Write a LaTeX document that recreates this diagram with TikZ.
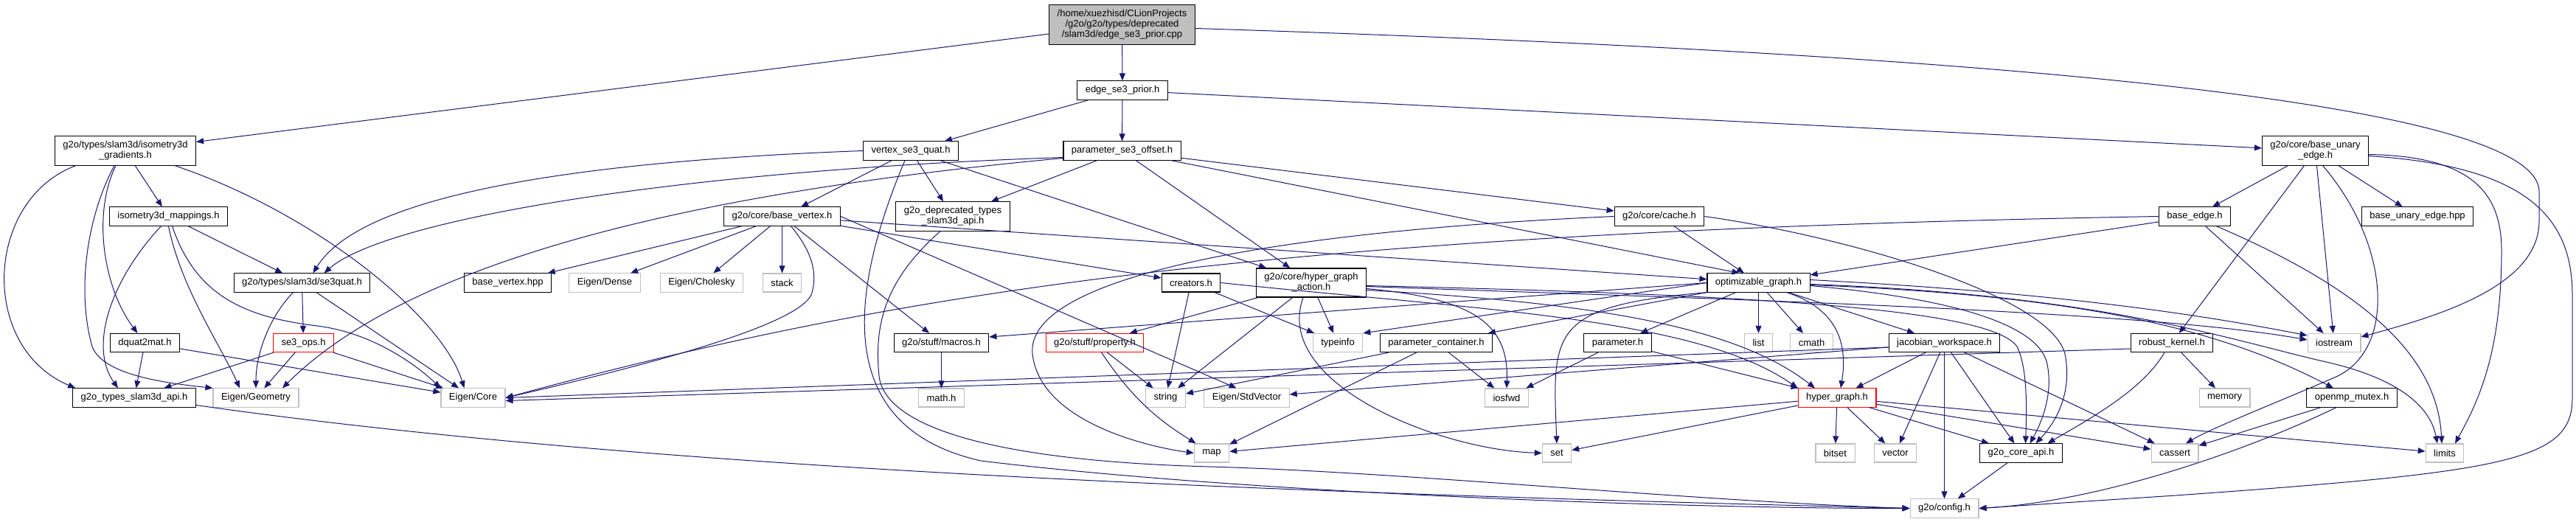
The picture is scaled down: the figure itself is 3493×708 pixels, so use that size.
\documentclass[tikz,border=0pt]{standalone}
\usepackage{fontspec}
\setmainfont{Liberation Sans}
\usepackage{xcolor}
\usetikzlibrary{arrows.meta}

\definecolor{edgeblue}{RGB}{25,25,112}
\definecolor{sysgray}{RGB}{191,191,191}

\begin{document}
\begin{tikzpicture}[
    x=1pt, y=-1pt,
    hdr/.style={
        draw=black,
        fill=white,
        line width=1.1pt,
        inner xsep=11pt,
        inner ysep=6.5pt,
        minimum height=25pt,
        align=center,
        font=\fontsize{13}{14}\selectfont
    },
    sys/.style={hdr, draw=sysgray},
    trunc/.style={hdr, draw=red},
    inc/.style={
        -{Triangle[length=10pt,width=8pt]},
        draw=edgeblue,
        line width=1pt
    }
]

\path[use as bounding box, fill=white] (0,0) rectangle (3493,708);

\node[hdr, fill=sysgray] (root) at (1521.5,33.5)
{/home/xuezhisd/CLionProjects\\/g2o/g2o/types/deprecated\\/slam3d/edge\_se3\_prior.cpp};

\node[hdr] (prior) at (1522,122.5) {edge\_se3\_prior.h};

\node[hdr] (isograd) at (170,204.5) {g2o/types/slam3d/isometry3d\\\_gradients.h};
\node[hdr] (vertex) at (1235,204.5) {vertex\_se3\_quat.h};
\node[hdr] (offset) at (1521.5,204.5) {parameter\_se3\_offset.h};
\node[hdr] (unary) at (3139.5,204.5) {g2o/core/base\_unary\\\_edge.h};

\node[hdr] (isomap) at (228.5,293.5) {isometry3d\_mappings.h};
\node[hdr] (basevertex) at (1060.5,293.5) {g2o/core/base\_vertex.h};
\node[hdr] (depapi) at (1292,293.5) {g2o\_deprecated\_types\\\_slam3d\_api.h};
\node[hdr] (cache) at (2250,293.5) {g2o/core/cache.h};
\node[hdr] (baseedge) at (2976,293.5) {base\_edge.h};
\node[hdr] (unaryhpp) at (3278,293.5) {base\_unary\_edge.hpp};

\node[hdr] (se3quat) at (409.5,383.5) {g2o/types/slam3d/se3quat.h};
\node[hdr] (vertexhpp) at (688.5,383.5) {base\_vertex.hpp};
\node[sys] (dense) at (820,383.5) {Eigen/Dense};
\node[sys] (cholesky) at (951.5,383.5) {Eigen/Cholesky};
\node[sys] (stack) at (1060.5,383.5) {stack};
\node[hdr] (creators) at (1615,383.5) {creators.h};
\node[hdr] (action) at (1778,383.5) {g2o/core/hyper\_graph\\\_action.h};
\node[hdr] (optgraph) at (2384.5,383.5) {optimizable\_graph.h};

\node[hdr] (dquat) at (196.5,465) {dquat2mat.h};
\node[trunc] (se3ops) at (411.5,465) {se3\_ops.h};
\node[hdr] (macros) at (1276.5,465) {g2o/stuff/macros.h};
\node[trunc] (property) at (1484.5,465) {g2o/stuff/property.h};
\node[sys] (typeinfo) at (1814,465) {typeinfo};
\node[hdr] (paramcont) at (1947.5,465) {parameter\_container.h};
\node[hdr] (param) at (2193.5,465) {parameter.h};
\node[sys] (list) at (2384.5,465) {list};
\node[sys] (cmath) at (2456.5,465) {cmath};
\node[hdr] (jacobian) at (2636.5,465) {jacobian\_workspace.h};
\node[hdr] (robust) at (2945,465) {robust\_kernel.h};
\node[sys] (iostream) at (3165,465) {iostream};

\node[hdr] (api3d) at (182,539.5) {g2o\_types\_slam3d\_api.h};
\node[sys] (geometry) at (347,539.5) {Eigen/Geometry};
\node[sys] (core) at (641.5,539.5) {Eigen/Core};
\node[sys] (math) at (1276.5,539.5) {math.h};
\node[sys] (string) at (1580.5,539.5) {string};
\node[sys] (stdvector) at (1690.5,539.5) {Eigen/StdVector};
\node[sys] (iosfwd) at (2043,539.5) {iosfwd};
\node[trunc] (hypergraph) at (2491,539.5) {hyper\_graph.h};
\node[sys] (memory) at (3016.5,539.5) {memory};
\node[hdr] (mutex) at (3189,539.5) {openmp\_mutex.h};

\node[sys] (map) at (1643,614.5) {map};
\node[sys] (set) at (2111,614.5) {set};
\node[sys] (bitset) at (2488.5,614.5) {bitset};
\node[sys] (vector) at (2570,614.5) {vector};
\node[hdr] (coreapi) at (2740.5,614.5) {g2o\_core\_api.h};
\node[sys] (cassert) at (2949,614.5) {cassert};
\node[sys] (limits) at (3315,614.5) {limits};

\node[sys] (config) at (2636.5,689.5) {g2o/config.h};

\draw[inc] (root) -- (prior);
\draw[inc] (root) -- (isograd);
\draw[inc] ([yshift=-5]root.east) .. controls (2600,70) and (3443,130) .. (3443,260)
    -- (3443,300) .. controls (3443,390) and (3300,430) .. ([yshift=8]iostream.east);

\draw[inc] (prior) -- (vertex);
\draw[inc] (prior) -- (offset);
\draw[inc] (prior) -- (unary);

\draw[inc] (isograd) -- (isomap);
\draw[inc] ([xshift=-13]isograd.south) .. controls (125,290) and (140,390) .. ([xshift=-10]dquat.north);
\draw[inc] ([xshift=-15]isograd.south) .. controls (115,300) and (105,400) .. (125,470)
    .. controls (140,510) and (230,520) .. (geometry.north west);
\draw[inc] ([xshift=-67]isograd.south) .. controls (-20,270) and (-30,470) .. ([xshift=4]api3d.north west);
\draw[inc] ([xshift=67]isograd.south) .. controls (430,290) and (600,430) .. ([xshift=-12]core.north);

\draw[inc] (isomap) -- (se3quat);
\draw[inc] ([xshift=-10]isomap.south) .. controls (150,380) and (120,470) .. ([xshift=-22]api3d.north);
\draw[inc] (isomap.south) .. controls (245,390) and (300,470) .. ([xshift=-22]geometry.north);
\draw[inc] ([xshift=5]isomap.south) .. controls (265,400) and (330,430) .. (430,442)
    .. controls (510,452) and (570,500) .. (core.north west);

\draw[inc] (dquat) -- (api3d);
\draw[inc] (dquat) -- (core);

\draw[inc] ([xshift=-12]se3quat.south) .. controls (365,430) and (347,480) .. (geometry.north);
\draw[inc] (se3quat) -- (se3ops);
\draw[inc] (se3quat) -- (core);

\draw[inc] (se3ops) -- (api3d);
\draw[inc] (se3ops) -- (geometry);
\draw[inc] (se3ops) -- (core);

\draw[inc] ([yshift=-10]api3d.east) .. controls (900,640) and (1800,670) .. (config.west);

\draw[inc] (vertex.west) .. controls (700,222) and (480,280) .. ([xshift=15]se3quat.north);
\draw[inc] (vertex) -- (basevertex);
\draw[inc] (vertex) -- (depapi);
\draw[inc] (vertex) -- (action);
\draw[inc] ([xshift=-8]vertex.south) .. controls (1150,400) and (1130,580) .. (1330,625)
    .. controls (1700,670) and (2300,690) .. (config.west);

\draw[inc] ([yshift=-9]offset.west) .. controls (900,232) and (520,300) .. ([xshift=30]se3quat.north);
\draw[inc] ([yshift=-10]offset.west) .. controls (950,260) and (560,350) .. ([xshift=36]geometry.north);
\draw[inc] (offset) -- (depapi);
\draw[inc] (offset) -- (action);
\draw[inc] (offset) -- ([xshift=-26]optgraph.north);
\draw[inc] (offset) -- (cache);

\draw[inc] ([xshift=-17]depapi.south) .. controls (1200,380) and (1185,440) .. (1192,510)
    .. controls (1200,580) and (1350,625) .. (1640,633)
    .. controls (1900,640) and (2300,680) .. (config.west);

\draw[inc] (basevertex) -- (vertexhpp);
\draw[inc] (basevertex) -- (dense);
\draw[inc] (basevertex) -- (cholesky);
\draw[inc] (basevertex) -- (stack);
\draw[inc] ([xshift=12]basevertex.south) .. controls (1100,340) and (1110,370) .. (1100,400)
    .. controls (1080,440) and (900,490) .. (core.east);
\draw[inc] (basevertex) -- (macros);
\draw[inc] (basevertex) -- (creators);
\draw[inc] (basevertex.east) -- ([xshift=-14]stdvector.north);
\draw[inc] (basevertex) -- (optgraph);

\draw[inc] (creators) -- (string);
\draw[inc] (creators) -- (typeinfo);
\draw[inc] (creators.east) .. controls (2000,420) and (2300,430) .. (hypergraph.north west);

\draw[inc] (action) -- (property);
\draw[inc] (action) -- (string);
\draw[inc] (action) -- (typeinfo);
\draw[inc] ([xshift=-11]action.south) .. controls (1725,520) and (1950,610) .. (set.west);
\draw[inc] ([yshift=-8]action.east) .. controls (2000,405) and (2046,440) .. (iosfwd.north);
\draw[inc] ([yshift=-10]action.east) .. controls (2150,410) and (2350,440) .. ([xshift=-30]hypergraph.north);
\draw[inc] ([yshift=-4]action.east) .. controls (2400,400) and (2700,420) .. (2735,470)
    .. controls (2750,500) and (2748,560) .. ([xshift=6]coreapi.north);
\draw[inc] ([yshift=-5]action.east) .. controls (2300,405) and (2900,420) .. ([yshift=4]iostream.west);

\draw[inc] (optgraph) -- (list);
\draw[inc] (optgraph) -- (cmath);
\draw[inc] ([xshift=38]optgraph.south) .. controls (2495,420) and (2505,470) .. ([xshift=5]hypergraph.north);
\draw[inc] (optgraph) -- (jacobian);
\draw[inc] (optgraph) -- (param);
\draw[inc] (optgraph.south west) .. controls (2100,415) and (2105,450) .. (set.north);
\draw[inc] (optgraph) -- (paramcont);
\draw[inc] (optgraph.west) -- (typeinfo.north east);
\draw[inc] (optgraph.west) -- ([yshift=8]macros.east);
\draw[inc] ([yshift=-4]optgraph.east) .. controls (2650,405) and (2760,440) .. (2775,490)
    .. controls (2785,530) and (2770,570) .. ([xshift=12]coreapi.north);
\draw[inc] ([yshift=4]optgraph.east) .. controls (2750,395) and (2950,420) .. ([yshift=10]iostream.west);
\draw[inc] ([yshift=-2]optgraph.east) .. controls (2850,400) and (3020,460) .. (3150,490)
    .. controls (3250,512) and (3295,550) .. ([xshift=-10]limits.north);
\draw[inc] ([yshift=-3]optgraph.east) .. controls (2800,400) and (3000,440) .. ([xshift=-25]mutex.north);

\draw[inc] (cache.west) .. controls (1700,315) and (1390,380) .. (1400,480)
    .. controls (1410,570) and (1550,605) .. (map.west);
\draw[inc] (cache) -- (optgraph);
\draw[inc] (cache.east) .. controls (2500,320) and (2780,400) .. (2800,480)
    .. controls (2810,530) and (2790,570) .. ([xshift=20]coreapi.north);

\draw[inc] (baseedge) -- (iostream);
\draw[inc] ([xshift=29]baseedge.south) .. controls (3200,390) and (3305,480) .. ([xshift=-4]limits.north);
\draw[inc] (baseedge) -- (optgraph);
\draw[inc] (baseedge.west) .. controls (1700,315) and (1200,400) .. (core.east);

\draw[inc] (unary) -- (baseedge);
\draw[inc] (unary) -- (unaryhpp);
\draw[inc] (unary) -- (robust);
\draw[inc] (unary) -- (iostream);
\draw[inc] ([xshift=10]unary.south) .. controls (3240,330) and (3250,470) .. (3170,510)
    .. controls (3090,545) and (3000,580) .. ([xshift=15]cassert.north);
\draw[inc] ([yshift=-5]unary.east) .. controls (3350,212) and (3392,260) .. (3392,340)
    .. controls (3392,480) and (3360,545) .. ([xshift=14]limits.north);
\draw[inc] ([yshift=-7]unary.east) .. controls (3420,225) and (3488,290) .. (3488,400)
    -- (3488,540) .. controls (3488,625) and (3400,640) .. (2950,672) -- (config.east);

\draw[inc] ([yshift=-6]jacobian.west) -- (core.east);
\draw[inc] (jacobian) -- (stdvector);
\draw[inc] (jacobian) -- (hypergraph);
\draw[inc] (jacobian) -- (vector);
\draw[inc] (jacobian) -- (config);
\draw[inc] (jacobian) -- (coreapi);
\draw[inc] (jacobian) -- (cassert);

\draw[inc] ([xshift=-10]robust.south) .. controls (2905,530) and (2830,570) .. ([xshift=36]coreapi.north);
\draw[inc] (robust) -- (memory);
\draw[inc] ([yshift=-8]robust.west) -- ([yshift=-4]core.east);

\draw[inc] (paramcont) -- (string);
\draw[inc] (paramcont) -- (map);
\draw[inc] (paramcont) -- (iosfwd);

\draw[inc] (param) -- (iosfwd);
\draw[inc] (param) -- (hypergraph);

\draw[inc] (property) -- (string);
\draw[inc] (property) to[bend right=12] (map);

\draw[inc] (macros) -- (math);

\draw[inc] (hypergraph) -- (map);
\draw[inc] (hypergraph) -- (set);
\draw[inc] (hypergraph) -- (bitset);
\draw[inc] (hypergraph) -- (vector);
\draw[inc] (hypergraph) -- (coreapi);
\draw[inc] (hypergraph) -- (cassert);
\draw[inc] (hypergraph) -- (limits);

\draw[inc] (mutex) -- (cassert);
\draw[inc] ([xshift=-21]mutex.south) .. controls (3050,610) and (2850,680) .. (config.east);

\draw[inc] (coreapi) -- (config);

\end{tikzpicture}
\end{document}
